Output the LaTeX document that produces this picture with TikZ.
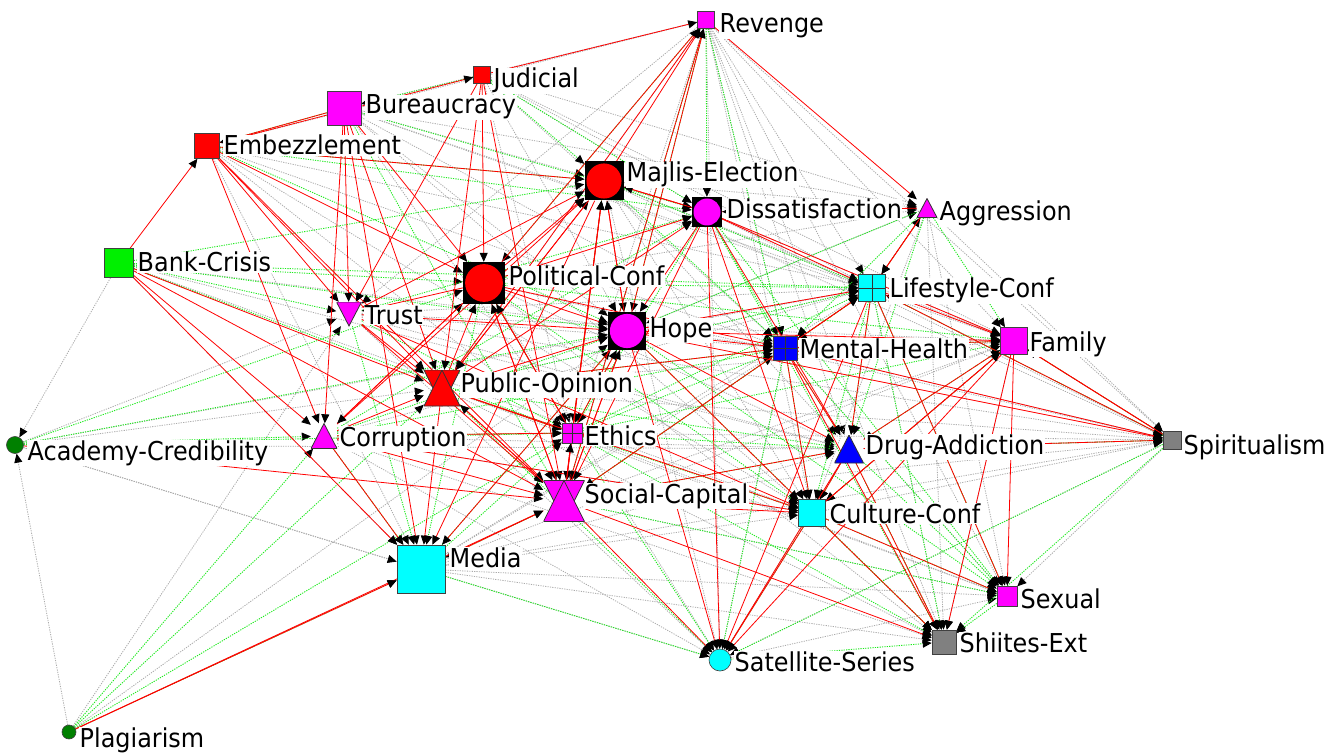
\documentclass[tikz,border=0pt]{standalone}
\usepackage{fontspec}
\setmainfont{DejaVu Sans}[FakeStretch=0.92]
\usetikzlibrary{arrows.meta,backgrounds,calc}
\newcommand\lbfont{\fontsize{26}{28}\selectfont}
\definecolor{cRed}{RGB}{255,0,0}
\definecolor{cMag}{RGB}{255,0,255}
\definecolor{cCyan}{RGB}{0,255,255}
\definecolor{cBlue}{RGB}{0,0,255}
\definecolor{cGreen}{RGB}{0,240,0}
\definecolor{cDkGreen}{RGB}{0,128,0}
\definecolor{cGray}{RGB}{128,128,128}
\definecolor{gLine}{RGB}{30,235,30}
\definecolor{yLine}{RGB}{170,170,170}
\tikzset{
 x=1pt, y=-1pt,
 lab/.style={fill=white, inner sep=0.5pt, font=\lbfont, anchor=base west, text=black},
 sq/.style={rectangle, draw=black!75, line width=0.6pt, fill=#1, inner sep=0pt},
 xsq/.style={sq=#1, path picture={\draw[black!80,line width=0.7pt] (path picture bounding box.north)--(path picture bounding box.south) (path picture bounding box.west)--(path picture bounding box.east);}},
 csq/.style={rectangle, fill=black, inner sep=0pt, path picture={\path[fill=#1] let \p1=($(path picture bounding box.north east)-(path picture bounding box.center)$) in (path picture bounding box.center) circle[radius=0.9*\x1];}},
 dotn/.style={circle, draw=black!75, line width=0.6pt, fill=#1, inner sep=0pt},
 triup/.style={rectangle, inner sep=0pt, path picture={\filldraw[fill=#1,draw=black!80,line width=0.8pt] (path picture bounding box.south west) -- (path picture bounding box.south east) -- (path picture bounding box.north) -- cycle;}},
 tridn/.style={rectangle, inner sep=0pt, path picture={\filldraw[fill=#1,draw=black!80,line width=0.8pt] (path picture bounding box.north west) -- (path picture bounding box.north east) -- (path picture bounding box.south) -- cycle;}},
 hg/.style={rectangle, inner sep=0pt, path picture={\filldraw[fill=#1,draw=black!80,line width=0.8pt] (path picture bounding box.north west) -- (path picture bounding box.north east) -- (path picture bounding box.south) -- cycle;
   \filldraw[fill=#1,draw=black!80,line width=0.8pt] (path picture bounding box.south west) -- (path picture bounding box.south east) -- (path picture bounding box.north) -- cycle;}},
 arr/.style={-{Triangle[length=9pt,width=8pt,color=black]}},
 re/.style={arr, draw=cRed, line width=0.8pt},
 ge/.style={arr, draw=gLine, line width=0.9pt, dash pattern=on 1.2pt off 1.2pt},
 ye/.style={arr, draw=yLine, line width=0.8pt, dash pattern=on 1.2pt off 1.2pt},
}
\begin{document}
\begin{tikzpicture}
\useasboundingbox (0,0) rectangle (1334,754);
% symbols
\node[sq=cMag, minimum size=17] (rev) at (706,20) {};
\node[sq=cRed, minimum size=17] (jud) at (482,75) {};
\node[sq=cMag, minimum size=34] (bur) at (344,108) {};
\node[sq=cRed, minimum size=25] (emb) at (207,146) {};
\node[csq=cRed, minimum size=39] (maj) at (604,181) {};
\node[csq=cMag, minimum size=30] (dis) at (707,212) {};
\node[triup=cMag, minimum width=20, minimum height=19] (agg) at (927,208) {};
\node[sq=cGreen, minimum size=29] (bank) at (119,263) {};
\node[csq=cRed, minimum size=42] (pol) at (484,283) {};
\node[xsq=cCyan, minimum size=27] (life) at (872,288) {};
\node[tridn=cMag, minimum width=25, minimum height=24] (trust) at (349,314) {};
\node[csq=cMag, minimum size=38] (hope) at (627,331) {};
\node[sq=cMag, minimum size=27] (fam) at (1014,341) {};
\node[xsq=cBlue, minimum size=24] (ment) at (785,348) {};
\node[hg=cRed, minimum size=36] (pub) at (442,388) {};
\node[triup=cMag, minimum width=26, minimum height=25] (corr) at (324,436) {};
\node[xsq=cMag, minimum size=20] (eth) at (572,433) {};
\node[dotn=cDkGreen, minimum size=17] (acad) at (15,445) {};
\node[triup=cBlue, minimum width=29, minimum height=28] (drug) at (849,449) {};
\node[sq=cGray, minimum size=18] (spir) at (1172,440) {};
\node[hg=cMag, minimum size=41] (soc) at (564,501) {};
\node[sq=cCyan, minimum size=27] (cult) at (812,513) {};
\node[sq=cCyan, minimum size=48] (med) at (421,569) {};
\node[sq=cMag, minimum size=20] (sex) at (1007,596) {};
\node[sq=cGray, minimum size=24] (shi) at (944,642) {};
\node[dotn=cCyan, minimum size=22] (sat) at (720,660) {};
\node[dotn=cDkGreen, minimum size=14] (plag) at (69,732) {};
% labels
\node[lab] (lrev) at (719,33) {Revenge};
\node[lab] (ljud) at (493,88) {Judicial};
\node[lab] (lbur) at (365,114) {Bureaucracy};
\node[lab] (lemb) at (223,155) {Embezzlement};
\node[lab] (lmaj) at (626,182) {Majlis-Election};
\node[lab] (ldis) at (726,219) {Dissatisfaction};
\node[lab] (lagg) at (939,221) {Aggression};
\node[lab] (lbank) at (137,272) {Bank-Crisis};
\node[lab] (lpol) at (508,286) {Political-Conf};
\node[lab] (llife) at (889,298) {Lifestyle-Conf};
\node[lab] (ltrust) at (364,324) {Trust};
\node[lab] (lhope) at (649,337) {Hope};
\node[lab] (lfam) at (1029,351) {Family};
\node[lab] (lment) at (799,358) {Mental-Health};
\node[lab] (lpub) at (460,392) {Public-Opinion};
\node[lab] (lcorr) at (339,446) {Corruption};
\node[lab] (leth) at (584,445) {Ethics};
\node[lab] (lacad) at (27,460) {Academy-Credibility};
\node[lab] (ldrug) at (865,454) {Drug-Addiction};
\node[lab] (lspir) at (1183,454) {Spiritualism};
\node[lab] (lsoc) at (584,503) {Social-Capital};
\node[lab] (lcult) at (829,523) {Culture-Conf};
\node[lab] (lmed) at (449,567) {Media};
\node[lab] (lsex) at (1020,608) {Sexual};
\node[lab] (lshi) at (959,652) {Shiites-Ext};
\node[lab] (lsat) at (734,671) {Satellite-Series};
\node[lab] (lplag) at (79,747) {Plagiarism};
\begin{pgfonlayer}{background}
\fill[white] (0,0) rectangle (1334,754);
% gray dotted
\foreach \a/\b in {rev/bur,rev/emb,rev/trust,rev/pub,rev/eth,rev/cult,rev/fam,rev/life,rev/drug,rev/spir,rev/ment,
 jud/life,jud/hope,jud/eth,jud/ment,jud/dis,bur/agg,bur/hope,bur/ment,bur/cult,bur/eth,bur/life,
 emb/ment,emb/eth,emb/cult,emb/med,bank/acad,bank/med,bank/ment,bank/drug,bank/cult,
 acad/trust,acad/pub,acad/sat,acad/med,plag/acad,acad/life,acad/drug,plag/trust,plag/hope,
 trust/ment,trust/drug,trust/sat,trust/fam,trust/spir,corr/drug,corr/sat,corr/shi,corr/cult,
 pub/shi,pub/sex,pub/fam,pub/spir,pol/drug,pol/spir,pol/sat,pol/shi,pol/agg,
 maj/agg,maj/fam,maj/drug,maj/cult,maj/spir,maj/sat,dis/spir,dis/fam,hope/agg,eth/spir,eth/sex,
 soc/spir,soc/fam,soc/sex,med/shi,med/sex,med/drug,med/cult,med/spir,med/ment,med/fam,med/life,
 life/spir,life/shi,ment/sex,ment/spir,ment/sat,drug/spir,drug/sat,cult/spir,agg/spir,agg/cult,
 agg/sex,agg/shi,spir/sex,spir/sat,sat/sex,fam/shi,bur/maj,jud/agg,emb/life,corr/life,trust/life,
 rev/sat,rev/soc,rev/shi,rev/sex,jud/fam,bur/fam,maj/life,dis/life,hope/life,pub/life}
 \draw[ye] (\a) -- (\b);
% green dotted
\foreach \a/\b in {bank/maj,bank/pol,bank/hope,bank/eth,bank/life,bank/trust,emb/maj,emb/dis,emb/hope,
 bur/dis,bur/soc,bur/emb,jud/maj,jud/dis,jud/bur,rev/dis,rev/pol,rev/hope,rev/ment,rev/soc,
 trust/dis,trust/eth,trust/med,corr/dis,corr/hope,corr/eth,corr/med,corr/ment,
 acad/corr,acad/eth,acad/pol,acad/hope,plag/corr,plag/eth,plag/pub,
 pub/eth,pub/life,pub/drug,pub/sat,pub/ment,pol/eth,pol/life,pol/cult,pol/fam,pol/med,
 maj/life,maj/ment,maj/eth,dis/ment,dis/eth,dis/shi,dis/sex,hope/eth,hope/shi,hope/sex,
 eth/drug,eth/life,eth/cult,eth/ment,eth/fam,eth/sat,eth/shi,soc/drug,soc/ment,soc/life,soc/sex,
 med/soc,med/eth,med/hope,med/sat,life/ment,life/drug,life/cult,life/shi,life/sex,
 ment/drug,ment/cult,ment/sat,ment/sex,drug/cult,drug/sex,drug/shi,cult/sex,cult/shi,cult/sat,
 fam/cult,fam/ment,fam/drug,spir/fam,spir/life,spir/shi,spir/sat,spir/drug,
 agg/ment,agg/fam,agg/hope,agg/life,agg/drug,sex/shi,sat/shi,plag/med}
 \draw[ge] (\a) -- (\b);
% red solid
\foreach \a/\b in {jud/rev,rev/agg,pol/rev,maj/rev,hope/rev,soc/rev,pub/rev,emb/jud,bur/emb,bank/emb,
 emb/trust,emb/pub,emb/corr,emb/pol,emb/soc,emb/maj,bank/corr,bank/pub,bank/soc,bank/med,
 bur/trust,bur/pub,bur/corr,bur/pol,bur/med,jud/pub,jud/pol,jud/soc,jud/trust,
 trust/maj,trust/pub,trust/soc,trust/cult,trust/hope,corr/maj,corr/pol,corr/pub,corr/soc,corr/eth,corr/med,corr/cult,
 pub/maj,pub/pol,pub/hope,pub/soc,pub/eth,pub/med,pub/cult,pub/dis,pub/ment,
 pol/maj,pol/hope,pol/soc,pol/dis,pol/ment,pol/trust,pol/corr,pol/eth,
 maj/pub,maj/soc,maj/hope,maj/dis,maj/med,dis/maj,dis/soc,dis/fam,dis/drug,dis/agg,dis/life,dis/cult,dis/sat,dis/hope,
 hope/maj,hope/soc,hope/fam,hope/life,hope/ment,hope/drug,hope/sat,hope/spir,hope/cult,hope/med,
 life/fam,life/ment,life/drug,life/sat,life/spir,life/agg,ment/fam,ment/drug,ment/spir,ment/soc,ment/life,ment/cult,ment/shi,
 agg/life,agg/dis,fam/sex,fam/spir,fam/cult,fam/shi,fam/sat,drug/fam,drug/shi,drug/cult,drug/spir,drug/sat,
 eth/maj,eth/soc,eth/hope,eth/pol,soc/maj,soc/pol,soc/hope,soc/eth,soc/med,soc/sat,soc/shi,soc/cult,soc/drug,soc/pub,
 cult/shi,cult/sex,cult/fam,cult/sat,plag/soc,acad/soc,spir/fam,life/sex}
 \draw[re] (\a) -- (\b);
\draw[re] (plag) -- (med);
\end{pgfonlayer}
\end{tikzpicture}
\end{document}
